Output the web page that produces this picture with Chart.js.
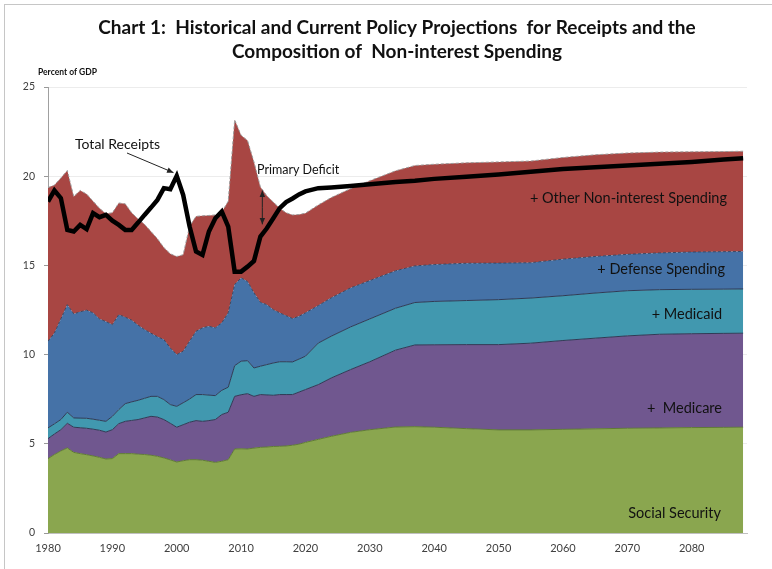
<!DOCTYPE html>
<html>
<head>
<meta charset="utf-8">
<title>Chart 1</title>
<script src="https://cdn.jsdelivr.net/npm/chart.js@4"></script>
<style>
  html, body { margin: 0; padding: 0; background: #fff; }
  #wrap { width: 772px; height: 569px; }
</style>
</head>
<body>
<div id="wrap"><canvas id="chart" width="772" height="569"></canvas></div>
<script>
// Percent of GDP (history to ~2010, projections after)
const years = [1980, 1981, 1982, 1983, 1984, 1985, 1986, 1987, 1988, 1989,
  1990, 1991, 1992, 1993, 1994, 1995, 1996, 1997, 1998, 1999,
  2000, 2001, 2002, 2003, 2004, 2005, 2006, 2007, 2008, 2009,
  2010, 2011, 2012, 2013, 2014, 2015, 2016, 2017, 2018, 2019,
  2020, 2022, 2024, 2027, 2030, 2034, 2037, 2040, 2045, 2050,
  2055, 2060, 2065, 2070, 2075, 2080, 2085, 2088];

const socialSecurity = [4.17, 4.40, 4.60, 4.77, 4.52, 4.45, 4.39, 4.32, 4.24, 4.15,
  4.17, 4.45, 4.45, 4.45, 4.42, 4.40, 4.36, 4.30, 4.21, 4.10,
  3.98, 4.05, 4.11, 4.11, 4.08, 4.02, 3.96, 4.02, 4.11, 4.71,
  4.72, 4.71, 4.76, 4.80, 4.82, 4.85, 4.86, 4.88, 4.92, 4.98,
  5.08, 5.25, 5.42, 5.64, 5.79, 5.94, 5.96, 5.93, 5.85, 5.78,
  5.78, 5.81, 5.84, 5.87, 5.89, 5.91, 5.92, 5.93];

const medicare = [1.12, 1.15, 1.19, 1.38, 1.41, 1.45, 1.48, 1.50, 1.52, 1.51,
  1.62, 1.68, 1.81, 1.86, 1.94, 2.05, 2.18, 2.20, 2.15, 2.05,
  1.95, 2.02, 2.10, 2.19, 2.18, 2.28, 2.40, 2.62, 2.66, 2.95,
  3.03, 3.10, 2.90, 2.96, 2.92, 2.87, 2.90, 2.88, 2.84, 2.92,
  2.96, 3.07, 3.27, 3.52, 3.81, 4.31, 4.58, 4.62, 4.71, 4.78,
  4.86, 4.98, 5.08, 5.18, 5.25, 5.26, 5.27, 5.27];

const medicaid = [0.60, 0.57, 0.57, 0.62, 0.52, 0.54, 0.56, 0.56, 0.56, 0.60,
  0.75, 0.79, 0.99, 1.04, 1.08, 1.10, 1.12, 1.16, 1.12, 1.05,
  1.17, 1.23, 1.30, 1.46, 1.50, 1.43, 1.34, 1.36, 1.40, 1.72,
  1.88, 1.85, 1.59, 1.59, 1.70, 1.81, 1.84, 1.84, 1.83, 1.85,
  1.87, 2.33, 2.34, 2.39, 2.40, 2.35, 2.38, 2.43, 2.47, 2.52,
  2.53, 2.51, 2.53, 2.53, 2.50, 2.49, 2.48, 2.48];

const defense = [4.86, 5.09, 5.64, 6.03, 5.83, 5.96, 6.06, 5.96, 5.68, 5.59,
  5.14, 5.32, 4.85, 4.58, 4.21, 3.85, 3.54, 3.34, 3.36, 3.17,
  2.90, 2.89, 3.24, 3.55, 3.74, 3.86, 3.80, 3.78, 4.17, 4.55,
  4.67, 4.44, 4.21, 3.58, 3.36, 2.99, 2.74, 2.58, 2.43, 2.40,
  2.43, 2.10, 2.15, 2.19, 2.15, 2.10, 2.05, 2.07, 2.09, 2.05,
  1.98, 2.05, 2.05, 2.04, 2.06, 2.09, 2.10, 2.10];

const otherSpending = [8.61, 8.29, 7.90, 7.52, 6.58, 6.80, 6.51, 6.26, 6.20, 6.05,
  6.27, 6.26, 6.35, 6.02, 5.95, 5.90, 5.70, 5.50, 5.16, 5.28,
  5.50, 5.41, 6.45, 6.44, 6.28, 6.21, 6.33, 6.22, 6.26, 9.23,
  8.00, 7.90, 7.34, 6.47, 6.10, 6.03, 5.86, 5.77, 5.81, 5.70,
  5.59, 5.64, 5.62, 5.56, 5.60, 5.60, 5.63, 5.62, 5.63, 5.67,
  5.70, 5.70, 5.70, 5.68, 5.65, 5.62, 5.61, 5.62];

const totalReceipts = [18.58, 19.20, 18.77, 16.99, 16.90, 17.27, 17.03, 17.93, 17.70, 17.83,
  17.51, 17.27, 16.99, 16.99, 17.40, 17.83, 18.24, 18.67, 19.33, 19.27,
  20.02, 18.95, 17.18, 15.78, 15.59, 16.90, 17.64, 18.02, 17.18, 14.65,
  14.65, 14.93, 15.25, 16.62, 17.08, 17.64, 18.21, 18.55, 18.75, 18.98,
  19.15, 19.33, 19.37, 19.45, 19.55, 19.68, 19.75, 19.85, 19.97, 20.10,
  20.25, 20.40, 20.50, 20.60, 20.70, 20.80, 20.93, 21.00];

const xTicks = [1980, 1990, 2000, 2010, 2020, 2030, 2040, 2050, 2060, 2070, 2080];
const yTicks = [0, 5, 10, 15, 20, 25];

const FONT = 'Lato, "Open Sans", sans-serif';

function pts(vals) {
  return years.map((yr, i) => ({ x: yr, y: vals[i] }));
}

function area(label, vals, fill, bg, border, dash) {
  return {
    label: label,
    data: pts(vals),
    stack: 'spending',
    fill: fill,
    backgroundColor: bg,
    borderColor: border,
    borderWidth: 1,
    borderDash: dash || [],
    pointRadius: 0,
    tension: 0
  };
}

// titles, labels and arrows
const notes = {
  id: 'notes',
  beforeDraw(chart) {
    const ctx = chart.ctx;
    ctx.save();
    ctx.strokeStyle = '#c6c6c6';
    ctx.lineWidth = 1;
    ctx.strokeRect(4.5, 4.5, 800, 600);
    ctx.restore();
  },
  afterDatasetsDraw(chart) {
    const ctx = chart.ctx;
    const xs = chart.scales.x, ys = chart.scales.y;
    ctx.save();
    ctx.fillStyle = '#111';
    ctx.textBaseline = 'middle';

    ctx.font = 'bold 19px ' + FONT;
    ctx.textAlign = 'center';
    ctx.fillText('Chart 1:  Historical and Current Policy Projections  for Receipts and the', 397, 28);
    ctx.fillText('Composition of  Non-interest Spending', 397, 52);

    ctx.font = 'bold 8.5px ' + FONT;
    ctx.textAlign = 'left';
    ctx.fillText('Percent of GDP', 38, 72);

    ctx.font = '14px ' + FONT;
    ctx.fillText('Total Receipts', 75, 144);
    ctx.font = '12.5px ' + FONT;
    ctx.fillText('Primary Deficit', 257, 170);

    ctx.font = '14.5px ' + FONT;
    ctx.textAlign = 'right';
    ctx.fillText('+ Other Non-interest Spending', 727, 198);
    ctx.fillText('+ Defense Spending', 725, 269);
    ctx.fillText('+ Medicaid', 722, 314);
    ctx.fillText('+  Medicare', 722, 408);
    ctx.fillText('Social Security', 721, 513);

    // arrow to the 2000 receipts peak
    ctx.strokeStyle = '#222';
    ctx.fillStyle = '#222';
    ctx.lineWidth = 1;
    arrow(ctx, 127, 153, xs.getPixelForValue(1999.5), ys.getPixelForValue(20.2));

    // primary deficit double arrow
    const ax = xs.getPixelForValue(2013.3);
    const y1 = ys.getPixelForValue(19.2), y2 = ys.getPixelForValue(17.3);
    arrow(ctx, ax, (y1 + y2) / 2, ax, y1);
    arrow(ctx, ax, (y1 + y2) / 2, ax, y2);
    ctx.restore();
  }
};

function arrow(ctx, x1, y1, x2, y2) {
  const a = Math.atan2(y2 - y1, x2 - x1);
  ctx.beginPath();
  ctx.moveTo(x1, y1);
  ctx.lineTo(x2, y2);
  ctx.stroke();
  ctx.beginPath();
  ctx.moveTo(x2, y2);
  ctx.lineTo(x2 - 7 * Math.cos(a - 0.4), y2 - 7 * Math.sin(a - 0.4));
  ctx.lineTo(x2 - 7 * Math.cos(a + 0.4), y2 - 7 * Math.sin(a + 0.4));
  ctx.closePath();
  ctx.fill();
}

new Chart(document.getElementById('chart'), {
  type: 'line',
  data: {
    datasets: [
      {
        label: 'Total Receipts',
        data: pts(totalReceipts),
        stack: 'receipts',
        fill: false,
        borderColor: '#000',
        borderWidth: 4.5,
        pointRadius: 0,
        tension: 0
      },
      area('Social Security', socialSecurity, 'origin', '#8aa64f', '#5f7a35'),
      area('Medicare', medicare, '-1', '#70578f', '#2e3a55'),
      area('Medicaid', medicaid, '-1', '#4198af', '#2e3a55'),
      area('Defense Spending', defense, '-1', '#4572a7', '#3c4660', [3, 2]),
      area('Other Non-interest Spending', otherSpending, '-1', '#a84643', '#9a9a9a', [3, 2])
    ]
  },
  options: {
    responsive: false,
    animation: false,
    layout: { padding: { top: 87, right: 25, bottom: 0, left: 0 } },
    plugins: {
      legend: { display: false },
      title: { display: false },
      tooltip: { enabled: false }
    },
    scales: {
      x: {
        type: 'linear',
        min: 1980,
        max: 2088.6,
        afterBuildTicks: s => { s.ticks = xTicks.map(v => ({ value: v })); },
        afterFit: s => { s.height = 36; },
        ticks: {
          callback: v => String(v),
          color: '#404040',
          font: { family: FONT, size: 11 },
          maxRotation: 0,
          padding: 9
        },
        grid: { display: false, drawTicks: false },
        border: { color: '#c0c0c0' }
      },
      y: {
        stacked: true,
        min: 0,
        max: 25,
        afterBuildTicks: s => { s.ticks = yTicks.map(v => ({ value: v })); },
        afterFit: s => { s.width = 48; },
        ticks: {
          color: '#404040',
          font: { family: FONT, size: 10.5 },
          padding: 9
        },
        grid: { color: '#ececec', tickLength: 4, tickColor: '#999' },
        border: { color: '#a0a0a0' }
      }
    }
  },
  plugins: [notes]
});
</script>
</body>
</html>
